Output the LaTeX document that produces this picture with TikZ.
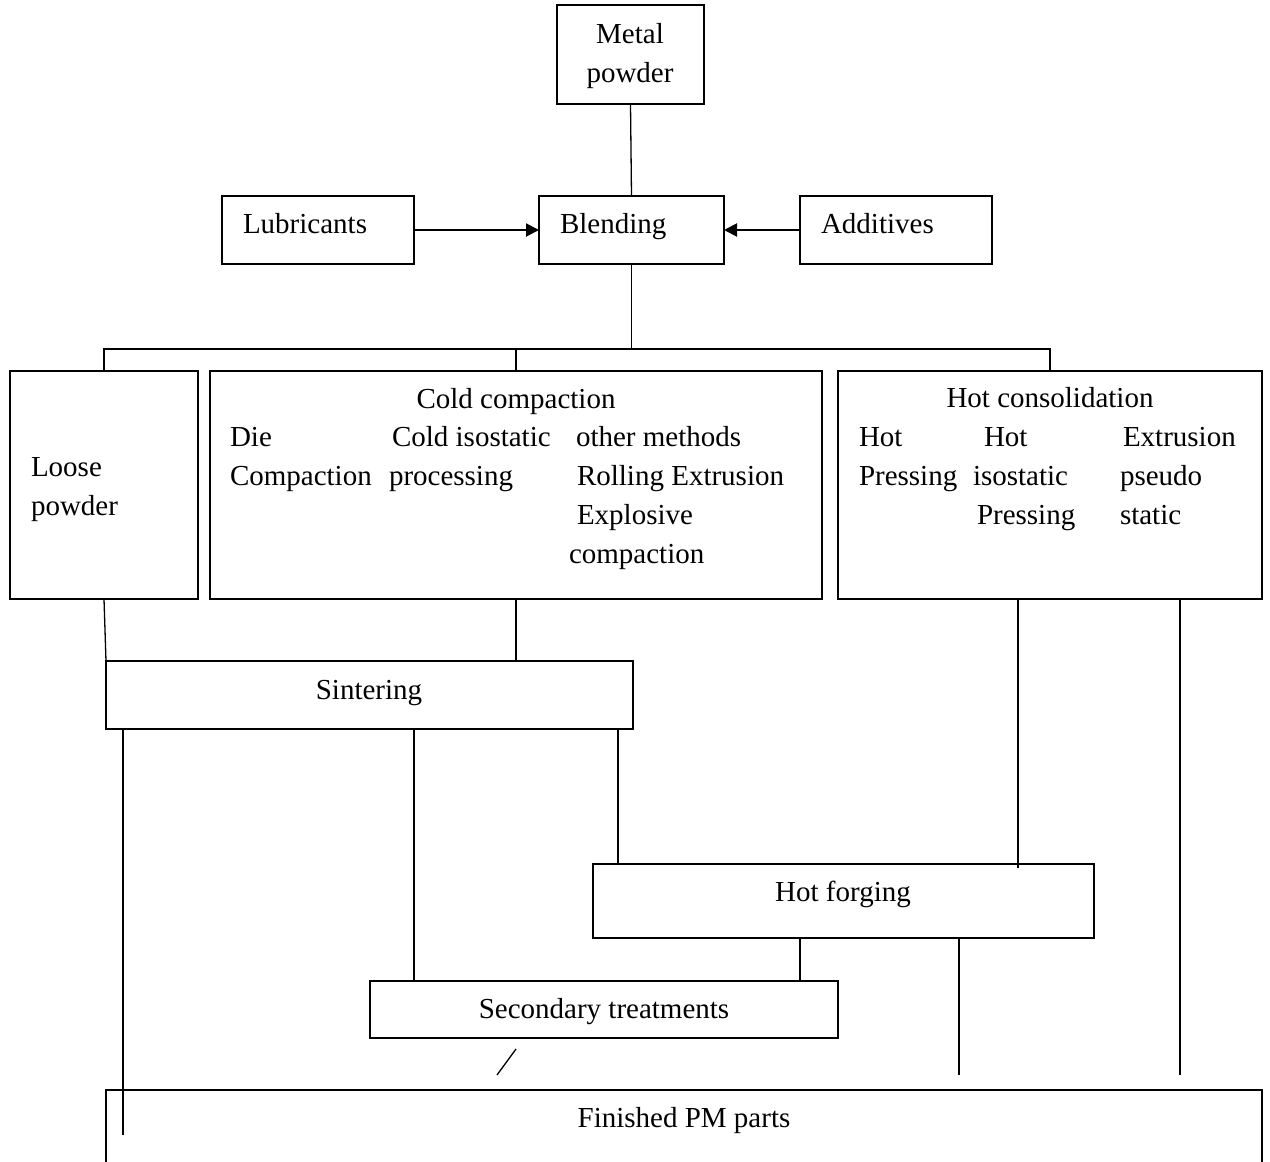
\documentclass[tikz,border=0pt]{standalone}
\usepackage{fontspec}
\setmainfont{Liberation Serif}
\usetikzlibrary{arrows.meta}
\tikzset{
  box/.style={draw, line width=1.5pt, rectangle, inner sep=0pt, outer sep=0pt},
  conn/.style={line width=1.3pt},
  arr/.style={line width=2pt, -{Triangle[length=13pt,width=13pt]}},
  txt/.style={inner sep=0pt, outer sep=0pt, anchor=base west, font=\fontsize{29}{39}\selectfont},
  ctxt/.style={txt, anchor=base}
}
\begin{document}
\begin{tikzpicture}[x=1pt,y=-1pt]
\useasboundingbox (0,0) rectangle (1270,1162);
\clip (0,0) rectangle (1270,1162);
% boxes
\node[box, minimum width=147pt, minimum height=99pt] (metal) at (630.5,54.5) {};
\node[box, minimum width=192pt, minimum height=68pt] (lub) at (318,230) {};
\node[box, minimum width=185pt, minimum height=68pt] (blend) at (631.5,230) {};
\node[box, minimum width=192pt, minimum height=68pt] (add) at (896,230) {};
\node[box, minimum width=188pt, minimum height=228pt] (loose) at (104,485) {};
\node[box, minimum width=612pt, minimum height=228pt] (cold) at (516,485) {};
\node[box, minimum width=424pt, minimum height=228pt] (hot) at (1050,485) {};
\node[box, minimum width=527pt, minimum height=68pt] (sint) at (369.5,695) {};
\node[box, minimum width=501pt, minimum height=74pt] (forge) at (843.5,901) {};
\node[box, minimum width=468pt, minimum height=57pt] (sec) at (604,1009.5) {};
\node[box, minimum width=1156pt, minimum height=110pt] (fin) at (684,1145) {};
% texts
\node[ctxt] (tmetal1) at (630,43) {Metal};
\node[ctxt] (tmetal2) at (630,82) {powder};
\node[txt] (tlub) at (243,233) {Lubricants};
\node[txt] (tblend) at (560,233) {Blending};
\node[txt] (tadd) at (821,233) {Additives};
\node[txt] (tloose1) at (31,476) {Loose};
\node[txt] (tloose2) at (31,515) {powder};
\node[ctxt] (tcold) at (516,408) {Cold compaction};
\node[txt] (tc1) at (230,446) {Die};
\node[txt] (tc2) at (230,485) {Compaction};
\node[txt] (tc3) at (392,446) {Cold isostatic};
\node[txt] (tc4) at (389,485) {processing};
\node[txt] (tc5) at (576,446) {other methods};
\node[txt] (tc6) at (577,485) {Rolling Extrusion};
\node[txt] (tc7) at (577,524) {Explosive};
\node[txt] (tc8) at (569,563) {compaction};
\node[ctxt] (thot) at (1050,407) {Hot consolidation};
\node[txt] (th1) at (859,446) {Hot};
\node[txt] (th2) at (859,485) {Pressing};
\node[txt] (th3) at (984,446) {Hot};
\node[txt] (th4) at (973,485) {isostatic};
\node[txt] (th5) at (977,524) {Pressing};
\node[txt] (th6) at (1123,446) {Extrusion};
\node[txt] (th7) at (1120,485) {pseudo};
\node[txt] (th8) at (1120,524) {static};
\node[ctxt] (tsint) at (369,699) {Sintering};
\node[ctxt] (tforge) at (843,901) {Hot forging};
\node[ctxt] (tsec) at (604,1018) {Secondary treatments};
\node[ctxt] (tfin) at (684,1127) {Finished PM parts};
% coordinates
\coordinate (bus) at (631.5,349);
\coordinate (e1) at (123,1135);
\coordinate (e2) at (1018,868);
\coordinate (e3) at (1180,1075);
\coordinate (e4) at (959,1075);
\coordinate (s1) at (497,1075);
\coordinate (s2) at (516,1049);
% connectors
\draw[conn] (metal.south) -- (blend.north);
\draw[arr] (lub.east) -- (blend.west);
\draw[arr] (add.west) -- (blend.east);
\draw[conn] (blend.south) -- (bus);
\draw[conn] (loose.north) -- (loose.north |- bus) -- (hot.north |- bus) -- (hot.north);
\draw[conn] (cold.north) -- (cold.north |- bus);
\draw[conn] (loose.south) -- (sint.north west);
\draw[conn] (cold.south) -- (cold.south |- sint.north);
\draw[conn] (sint.south -| e1) -- (e1);
\draw[conn] (sint.south -| 414,0) -- (sec.north -| 414,0);
\draw[conn] (sint.south -| 618,0) -- (forge.north -| 618,0);
\draw[conn] (hot.south -| e2) -- (e2);
\draw[conn] (hot.south -| e3) -- (e3);
\draw[conn] (forge.south -| 800,0) -- (sec.north -| 800,0);
\draw[conn] (forge.south -| e4) -- (e4);
\draw[conn] (s1) -- (s2);
\end{tikzpicture}
\end{document}
